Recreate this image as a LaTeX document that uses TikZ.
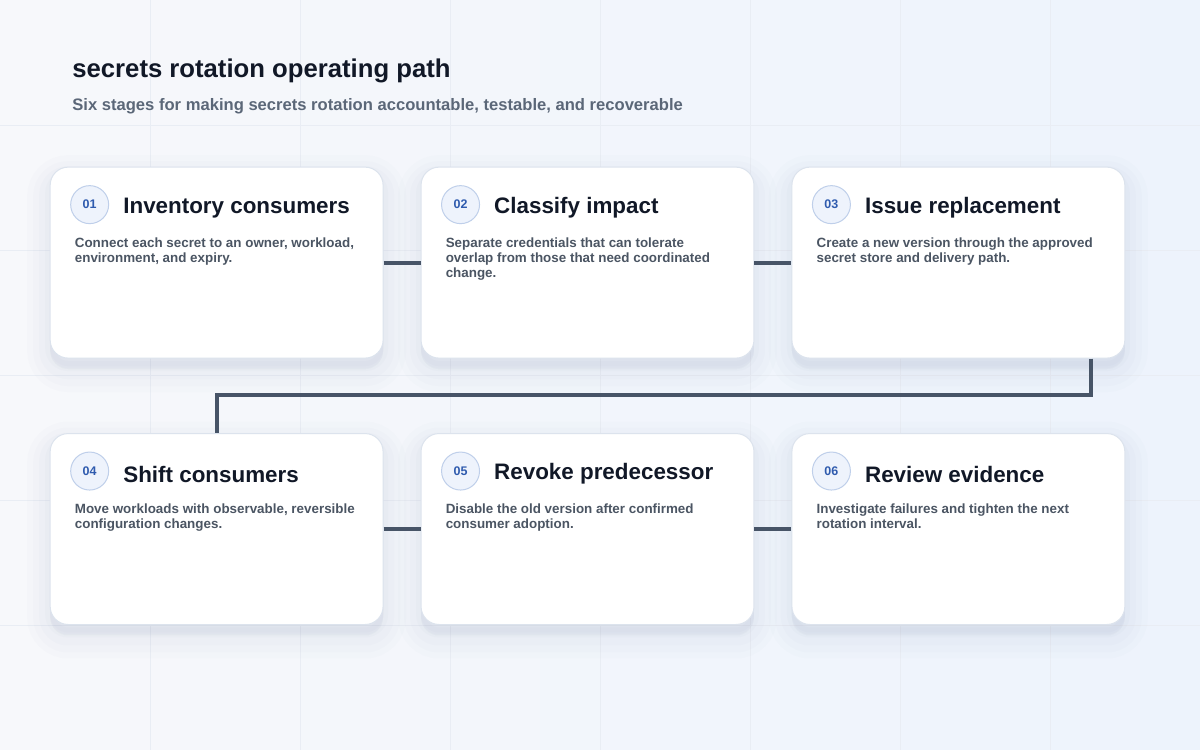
\documentclass[tikz,border=0pt]{standalone}
\usepackage{fontspec}
\setmainfont{Liberation Sans}
\usepackage{xcolor}
\usetikzlibrary{positioning}

\definecolor{ink}{HTML}{111827}
\definecolor{muted}{HTML}{4B5563}
\definecolor{subink}{HTML}{5B6778}
\definecolor{wire}{HTML}{475467}
\definecolor{rim}{HTML}{DCE3ED}
\definecolor{halo}{HTML}{8391B0}
\definecolor{badgefill}{HTML}{EEF3FC}
\definecolor{badgerim}{HTML}{BFCFEA}
\definecolor{badgetext}{HTML}{2F5BAE}
\definecolor{bgleft}{HTML}{F7F8FB}
\definecolor{bgright}{HTML}{EDF3FC}
\definecolor{gridline}{HTML}{E9EDF4}

\begin{document}
\begin{tikzpicture}[x=1pt, y=-1pt,
	card/.style={draw=rim, line width=1pt, fill=white, rounded corners=18pt, minimum width=333pt, minimum height=191pt, inner sep=0pt,
		preaction={draw=halo, fill=halo, opacity=.018, line width=46pt, transform canvas={yshift=-11pt}},
		preaction={draw=halo, fill=halo, opacity=.022, line width=34pt, transform canvas={yshift=-11pt}},
		preaction={draw=halo, fill=halo, opacity=.026, line width=22pt, transform canvas={yshift=-10pt}},
		preaction={draw=halo, fill=halo, opacity=.03, line width=10pt, transform canvas={yshift=-8pt}}},
	badge/.style={circle, draw=badgerim, line width=1pt, fill=badgefill, minimum size=38pt, inner sep=0pt, text=badgetext, font=\fontsize{12.5}{12}\selectfont\bfseries},
	heading/.style={text=ink, font=\fontsize{22.4}{26}\selectfont\bfseries, inner sep=0pt},
	blurb/.style={anchor=north west, align=left, text=muted, font=\fontsize{13.4}{15}\selectfont\bfseries, inner sep=0pt},
	link/.style={draw=wire, line width=4pt}]
	\shade[left color=bgleft, right color=bgright] (0,0) rectangle (1200,750);
	\foreach \gx in {150,300,...,1050} \draw[gridline] (\gx,0) -- (\gx,750);
	\foreach \gy in {125,250,...,625} \draw[gridline] (0,\gy) -- (1200,\gy);
	
	\node[anchor=base west, inner sep=0pt, text=ink, font=\fontsize{25.7}{30}\selectfont\bfseries] (title) at (72,77) {secrets rotation operating path};
	\node[anchor=base west, inner sep=0pt, text=subink, font=\fontsize{16.6}{19}\selectfont\bfseries] (subtitle) at (72,110) {Six stages for making secrets rotation accountable, testable, and recoverable};
	
	\node[card] (c1) at (216.5,262.5) {};
	\node[card] (c2) at (587.5,262.5) {};
	\node[card] (c3) at (958.5,262.5) {};
	\node[card] (c4) at (216.5,529) {};
	\node[card] (c5) at (587.5,529) {};
	\node[card] (c6) at (958.5,529) {};
	
	\node[badge] (b1) at ([shift={(40,38)}]c1.north west) {01};
	\node[heading, right=14pt of b1, yshift=-3pt] (h1) {Inventory consumers};
	\node[blurb] (d1) at ([shift={(25,71)}]c1.north west) {Connect each secret to an owner, workload,\\environment, and expiry.};
	
	\node[badge] (b2) at ([shift={(40,38)}]c2.north west) {02};
	\node[heading, right=14pt of b2, yshift=-3pt] (h2) {Classify impact};
	\node[blurb] (d2) at ([shift={(25,71)}]c2.north west) {Separate credentials that can tolerate\\overlap from those that need coordinated\\change.};
	
	\node[badge] (b3) at ([shift={(40,38)}]c3.north west) {03};
	\node[heading, right=14pt of b3, yshift=-3pt] (h3) {Issue replacement};
	\node[blurb] (d3) at ([shift={(25,71)}]c3.north west) {Create a new version through the approved\\secret store and delivery path.};
	
	\node[badge] (b4) at ([shift={(40,38)}]c4.north west) {04};
	\node[heading, right=14pt of b4, yshift=-3pt] (h4) {Shift consumers};
	\node[blurb] (d4) at ([shift={(25,71)}]c4.north west) {Move workloads with observable, reversible\\configuration changes.};
	
	\node[badge] (b5) at ([shift={(40,38)}]c5.north west) {05};
	\node[heading, right=14pt of b5, yshift=-3pt] (h5) {Revoke predecessor};
	\node[blurb] (d5) at ([shift={(25,71)}]c5.north west) {Disable the old version after confirmed\\consumer adoption.};
	
	\node[badge] (b6) at ([shift={(40,38)}]c6.north west) {06};
	\node[heading, right=14pt of b6, yshift=-3pt] (h6) {Review evidence};
	\node[blurb] (d6) at ([shift={(25,71)}]c6.north west) {Investigate failures and tighten the next\\rotation interval.};
	
	\draw[link] (c1.east) -- (c2.west);
	\draw[link] (c2.east) -- (c3.west);
	\coordinate (bend) at (1091,395);
	\draw[link] (c3.south -| bend) -- (bend) -| (c4.north);
	\draw[link] (c4.east) -- (c5.west);
	\draw[link] (c5.east) -- (c6.west);
\end{tikzpicture}
\end{document}
